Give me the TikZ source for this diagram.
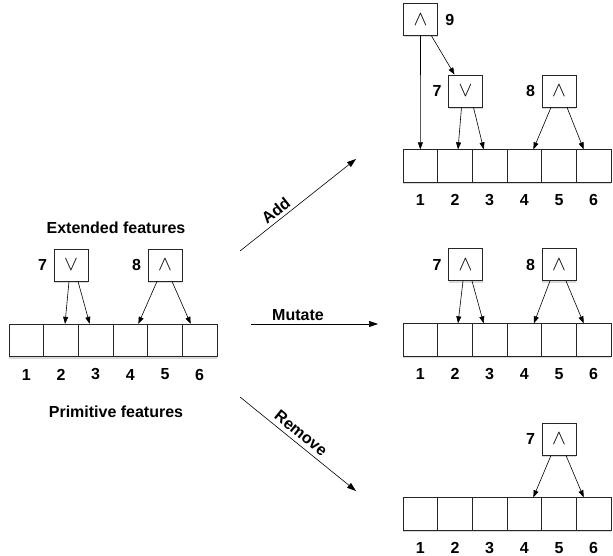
\documentclass[tikz,border=0pt]{standalone}
\usepackage{fontspec}
\setmainfont{Liberation Sans}[BoldFont={Liberation Sans Bold}]
\usetikzlibrary{positioning,arrows.meta,shadows}

\begin{document}
\begin{tikzpicture}[x=1pt, y=-1pt,
  font=\fontsize{16}{19}\selectfont\bfseries,
  cell/.style={draw=black!85, line width=0.8pt, fill=white, inner sep=0pt,
    minimum width=34.67pt, minimum height=32.5pt,
    drop shadow={shadow xshift=0pt, shadow yshift=-2pt, opacity=0.3}},
  feat/.style={cell, minimum width=34pt, minimum height=32pt,
    font=\fontsize{20}{22}\selectfont},
  link/.style={-{Triangle[length=7pt,width=5pt]}, line width=0.6pt},
  op/.style={-{Triangle[length=9pt,width=6pt]}, line width=0.6pt}]
  \useasboundingbox (0,0) rectangle (613,556);

  % primitive features (four rows of cells)
  \foreach \r/\x/\y in {a/9/340.5, b/403/166, c/403/340, d/403/514} {
    \foreach \i in {1,...,6} {
      \node[cell] (\r\i) at ({\x+34.67*\i-17.33}, \y) {};
      \node (\r\i n) at ({\x+34.67*\i-17.33}, \y+34) {\i};
    }
  }

  % extended features
  \node[feat] (a7) at (71,265) {$\vee$};
  \node[feat] (a8) at (165,265) {$\wedge$};
  \node[feat] (b9) at (420.5,19.5) {$\wedge$};
  \node[feat] (b7) at (465.5,91) {$\vee$};
  \node[feat] (b8) at (559,91) {$\wedge$};
  \node[feat] (c7) at (465.5,264.5) {$\wedge$};
  \node[feat] (c8) at (559,264.5) {$\wedge$};
  \node[feat] (d7) at (559,439) {$\wedge$};
  \node (a7l) [left=3pt of a7] {7};
  \node (a8l) [left=3pt of a8] {8};
  \node (b9l) [right=4pt of b9] {9};
  \node (b7l) [left=3pt of b7] {7};
  \node (b8l) [left=3pt of b8] {8};
  \node (c7l) [left=3pt of c7] {7};
  \node (c8l) [left=3pt of c8] {8};
  \node (d7l) [left=3pt of d7] {7};

  % titles
  \node (ext) at (116,228) {Extended features};
  \node (prim) at (116,412) {Primitive features};

  % links to the cells
  \draw[link] ([xshift=-2pt]a7.south) -- ([xshift=4pt]a2.north);
  \draw[link] ([xshift=7pt]a7.south) -- ([xshift=-6pt]a3.north);
  \draw[link] ([xshift=-8pt]a8.south) -- ([xshift=8pt]a4.north);
  \draw[link] ([xshift=7pt]a8.south) -- ([xshift=-9pt]a6.north);

  \draw[link] (b9.south) -- (b1.north);
  \draw[link] ([xshift=11pt]b9.south) -- ([xshift=-11pt]b7.north);
  \draw[link] ([xshift=-4pt]b7.south) -- ([xshift=3pt]b2.north);
  \draw[link] ([xshift=8pt]b7.south) -- ([xshift=-6pt]b3.north);
  \draw[link] ([xshift=-8pt]b8.south) -- ([xshift=9pt]b4.north);
  \draw[link] ([xshift=8pt]b8.south) -- ([xshift=-10pt]b6.north);

  \draw[link] ([xshift=-2.5pt]c7.south) -- ([xshift=3pt]c2.north);
  \draw[link] ([xshift=6.5pt]c7.south) -- ([xshift=-6pt]c3.north);
  \draw[link] ([xshift=-9pt]c8.south) -- ([xshift=9.5pt]c4.north);
  \draw[link] ([xshift=7pt]c8.south) -- ([xshift=-10pt]c6.north);

  \draw[link] ([xshift=-8pt]d7.south) -- ([xshift=9pt]d4.north);
  \draw[link] ([xshift=7pt]d7.south) -- ([xshift=-10pt]d6.north);

  % operations
  \coordinate (addS) at (240,251);
  \coordinate (addE) at (356,159);
  \coordinate (mutS) at (251,324);
  \coordinate (mutE) at (378,324);
  \coordinate (remS) at (240,397);
  \coordinate (remE) at (356,491);
  \draw[op] (addS) -- node[pos=0.36, sloped, above] (add) {Add} (addE);
  \draw[op] (mutS) -- node[pos=0.37, above] (mut) {Mutate} (mutE);
  \draw[op] (remS) -- node[pos=0.47, sloped, above=1pt] (rem) {Remove} (remE);
\end{tikzpicture}
\end{document}
